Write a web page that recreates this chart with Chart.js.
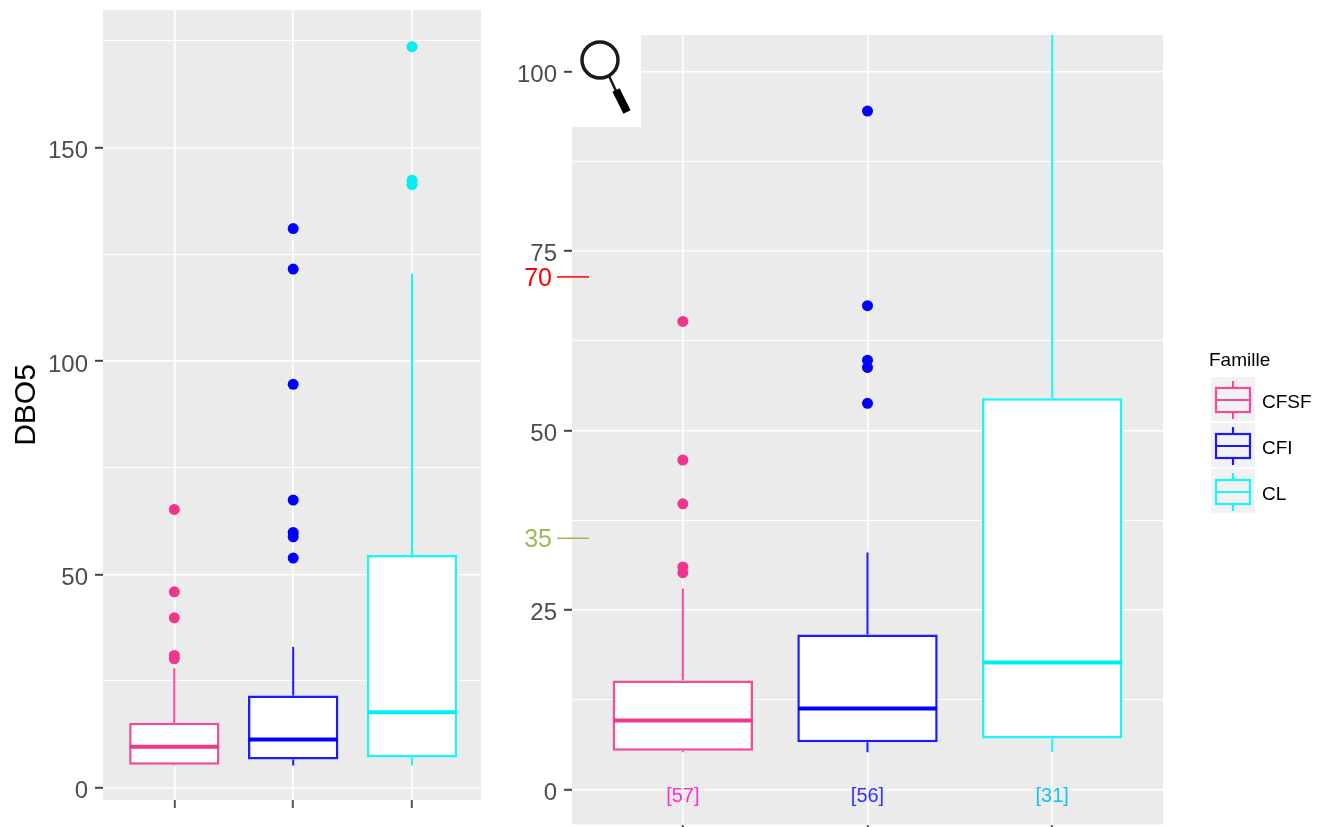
<!DOCTYPE html>
<html>
<head>
<meta charset="utf-8">
<title>DBO5 par famille</title>
<script src="https://cdn.jsdelivr.net/npm/chart.js@4/dist/chart.umd.min.js"></script>
<style>
  html, body { margin: 0; padding: 0; background: #fff; width: 1328px; height: 827px; overflow: hidden; }
  canvas { position: absolute; top: 0; }
  #left-chart { left: 0; }
  #right-chart { left: 490px; }
</style>
</head>
<body>
<canvas id="left-chart" width="490" height="827"></canvas>
<canvas id="right-chart" width="838" height="830"></canvas>

<script>
  // data
  const families = ["CFSF", "CFI", "CL"];
  const positions = [1, 2, 3];
  const q1 = [5.4, 6.6, 7.1];
  const medians = [9.6, 11.3, 17.7];
  const q3 = [15.2, 21.6, 54.5];
  const whiskerLow = [5.2, 5.2, 5.2];
  const whiskerHigh = [28, 33, 120.5];
  const outliersCFSF = [30.2, 31, 39.8, 45.9, 65.2];
  const outliersCFI = [53.8, 58.8, 59.8, 67.4, 94.5, 121.5, 131];
  const outliersCL = [141.3, 142.3, 173.6];
  const counts = ["[57]", "[56]", "[31]"];
  const leftTicks = [0, 25, 50, 75, 100, 125, 150, 175];
  const leftLabels = [0, 50, 100, 150];
  const rightTicks = [0, 12.5, 25, 37.5, 50, 62.5, 75, 87.5, 100];
  const rightLabels = [0, 25, 50, 75, 100];
  const markLabels = ["70", "35"];
  const markValues = [71.4, 35];

  const boxColors = ["#F04E98", "#1A1AFF", "#1AF5F5"];
  const strongColors = ["#F0368C", "#0000FF", "#00F0F0"];
  const countColors = ["#FF2FBF", "#3333FF", "#14C0F5"];
  const markColors = ["#FF0000", "#9BBB59"];
  const allOutliers = [outliersCFSF, outliersCFI, outliersCL];
  const boxWidth = 0.75;
  const fontName = "'Liberation Sans', Arial, sans-serif";

  function makeDatasets() {
    const sets = [{
      type: "bar",
      order: 5,
      data: positions.map((p, i) => ({ x: p, y: [q1[i], q3[i]] })),
      backgroundColor: "#FFFFFF",
      borderColor: boxColors,
      borderWidth: 2.5,
      borderSkipped: false,
      barPercentage: boxWidth + 0.01,
      categoryPercentage: 1,
      grouped: false
    }];
    positions.forEach((p, i) => {
      const line = { type: "line", order: 2, pointRadius: 0, borderColor: boxColors[i], borderWidth: 2 };
      sets.push({ ...line, data: [{ x: p, y: q3[i] }, { x: p, y: whiskerHigh[i] }] });
      sets.push({ ...line, data: [{ x: p, y: q1[i] }, { x: p, y: whiskerLow[i] }] });
      sets.push({
        ...line, order: 1, borderColor: strongColors[i], borderWidth: 4,
        data: [{ x: p - boxWidth / 2, y: medians[i] }, { x: p + boxWidth / 2, y: medians[i] }]
      });
      sets.push({
        type: "scatter", order: 1, pointRadius: 5.5, pointBorderWidth: 0,
        pointBackgroundColor: strongColors[i],
        data: allOutliers[i].map(v => ({ x: p, y: v }))
      });
    });
    return sets;
  }

  const panelBackground = {
    id: "panelBackground",
    beforeDraw(chart) {
      const a = chart.chartArea, c = chart.ctx;
      c.save();
      c.fillStyle = "#EBEBEB";
      c.fillRect(a.left, a.top, a.width, a.height);
      c.restore();
    }
  };

  // counts, 70/35 marks, magnifier and legend of the right panel
  const rightExtras = {
    id: "rightExtras",
    afterDraw(chart) {
      const c = chart.ctx, a = chart.chartArea;
      const xs = chart.scales.x, ys = chart.scales.y;
      c.save();
      c.textBaseline = "middle";

      c.textAlign = "center";
      c.font = "20px " + fontName;
      counts.forEach((t, i) => {
        c.fillStyle = countColors[i];
        c.fillText(t, xs.getPixelForValue(positions[i]), ys.getPixelForValue(-1));
      });

      c.textAlign = "right";
      c.font = "25px " + fontName;
      markLabels.forEach((t, i) => {
        const y = ys.getPixelForValue(markValues[i]);
        c.fillStyle = markColors[i];
        c.fillText(t, a.left - 20, y + 2);
        c.strokeStyle = markColors[i];
        c.lineWidth = 1.5;
        c.beginPath();
        c.moveTo(a.left - 15, y);
        c.lineTo(a.left + 17, y);
        c.stroke();
      });

      // magnifier
      c.fillStyle = "#FFFFFF";
      c.fillRect(a.left, a.top, 69, 92);
      c.strokeStyle = "#1A1A1A";
      c.lineWidth = 3.5;
      c.beginPath();
      c.arc(a.left + 28, a.top + 25, 18, 0, Math.PI * 2);
      c.stroke();
      c.lineWidth = 2.5;
      c.beginPath();
      c.moveTo(a.left + 37, a.top + 41);
      c.lineTo(a.left + 44, a.top + 56);
      c.stroke();
      c.lineWidth = 8;
      c.strokeStyle = "#000000";
      c.beginPath();
      c.moveTo(a.left + 44, a.top + 55);
      c.lineTo(a.left + 55, a.top + 77);
      c.stroke();

      // legend
      const keyX = 721, keyY = 377, keySize = 44, keyGap = 46;
      c.textAlign = "left";
      c.fillStyle = "#000000";
      c.font = "19px " + fontName;
      c.fillText("Famille", keyX - 2, 361);
      families.forEach((name, i) => {
        const top = keyY + i * keyGap;
        c.fillStyle = "#F2F2F2";
        c.fillRect(keyX, top, keySize, keySize);
        c.strokeStyle = boxColors[i];
        c.lineWidth = 2.2;
        c.beginPath();
        c.moveTo(keyX + 22, top + 4);
        c.lineTo(keyX + 22, top + 11);
        c.moveTo(keyX + 22, top + 35);
        c.lineTo(keyX + 22, top + 42);
        c.stroke();
        c.strokeRect(keyX + 5, top + 11, 34, 24);
        c.beginPath();
        c.moveTo(keyX + 5, top + 23);
        c.lineTo(keyX + 39, top + 23);
        c.stroke();
        c.fillStyle = "#000000";
        c.fillText(name, keyX + 51, top + 26);
      });
      c.restore();
    }
  };

  function makeChart(id, o) {
    return new Chart(document.getElementById(id), {
      type: "scatter",
      data: { datasets: makeDatasets() },
      plugins: [panelBackground].concat(o.plugins || []),
      options: {
        responsive: false,
        animation: false,
        layout: { padding: o.padding },
        plugins: { legend: { display: false }, tooltip: { enabled: false } },
        scales: {
          x: {
            type: "linear",
            offset: false,
            min: o.xMin,
            max: o.xMax,
            afterBuildTicks: s => { s.ticks = positions.map(v => ({ value: v })); },
            afterFit: s => { s.height = o.xHeight; s.paddingLeft = 0; s.paddingRight = 0; },
            border: { display: false },
            grid: { offset: false, color: "#FFFFFF", lineWidth: 1.6, tickColor: "#555555", tickWidth: 2, tickLength: 8 },
            ticks: { display: false }
          },
          y: {
            type: "linear",
            beginAtZero: false,
            min: o.yMin,
            max: o.yMax,
            afterBuildTicks: s => { s.ticks = o.ticks.map(v => ({ value: v })); },
            afterFit: s => { s.width = o.yWidth; s.paddingTop = 0; s.paddingBottom = 0; },
            border: { display: false },
            title: o.title || { display: false },
            grid: {
              color: "#FFFFFF",
              lineWidth: c => o.labels.includes(c.tick.value) ? 1.6 : 1.1,
              tickColor: c => o.labels.includes(c.tick.value) ? "#444444" : "rgba(0,0,0,0)",
              tickWidth: 2,
              tickLength: 8
            },
            ticks: {
              autoSkip: false,
              padding: 7,
              labelOffset: o.labelOffset,
              color: "#4D4D4D",
              font: { family: fontName, size: 24 },
              callback: v => o.labels.includes(v) ? String(v) : ""
            }
          }
        }
      }
    });
  }

  makeChart("left-chart", {
    padding: { top: 10, right: 9, bottom: 0, left: 0 },
    xMin: 0.4, xMax: 3.58, xHeight: 27,
    yMin: -2.87, yMax: 182.2, yWidth: 103, labelOffset: 4,
    ticks: leftTicks, labels: leftLabels,
    title: { display: true, text: "DBO5", color: "#000000", font: { family: fontName, size: 30 }, padding: { top: 9, bottom: 0 } }
  });

  makeChart("right-chart", {
    padding: { top: 35, right: 165, bottom: 0, left: 0 },
    xMin: 0.4, xMax: 3.6, xHeight: 2,
    yMin: -4.87, yMax: 105.1, yWidth: 82, labelOffset: 3.5,
    ticks: rightTicks, labels: rightLabels,
    plugins: [rightExtras]
  });
</script>
</body>
</html>
